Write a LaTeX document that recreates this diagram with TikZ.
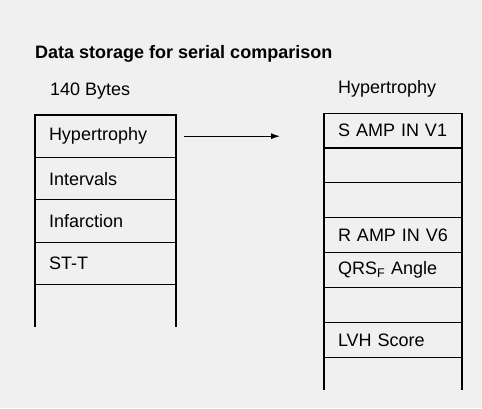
\documentclass[tikz,border=0pt]{standalone}
\usepackage{fontspec}
\setmainfont{Liberation Sans}
\usetikzlibrary{arrows.meta,positioning}

\begin{document}
\begin{tikzpicture}[
  x=1pt, y=-1pt, node distance=0pt,
  font=\fontsize{18}{21}\selectfont,
  cel/.style ={draw, line width=1.1pt, inner xsep=14pt, inner ysep=0pt,
               align=left, outer sep=0pt},
  lcel/.style={cel, text width=113pt, minimum height=42.4pt},
  rcel/.style={cel, text width=110pt, minimum height=34.9pt},
  opn/.style ={draw=none},
  hdr/.style ={inner sep=0pt, anchor=base west},
  fl/.style  ={-{Latex[length=9pt,width=6pt]}, line width=1.1pt}]

\fill[black!6] (0,0) rectangle (482,408);
\useasboundingbox (0,0) rectangle (482,408);

\node[hdr] (ttl) at (35,58) {\bfseries Data storage for serial comparison};
\node[hdr] (lhd) at (50,95) {140 Bytes};
\node[hdr] (rhd) at (338,93) {Hypertrophy};

% 140 byte record
\node[lcel] (l1) at (105.5,136.2) {Hypertrophy};
\node[lcel, below=of l1] (l2) {Intervals};
\node[lcel, below=of l2] (l3) {Infarction};
\node[lcel, below=of l3] (l4) {ST-T};
\node[lcel, opn, below=of l4] (l5) {};

% hypertrophy block
\node[rcel] (r1) at (393,130.5) {S AMP IN V1};
\node[rcel, below=of r1] (r2) {};
\node[rcel, below=of r2] (r3) {};
\node[rcel, below=of r3] (r4) {\mbox{R AMP IN V6}};
\node[rcel, below=of r4] (r5) {QRS\textsubscript{F} Angle};
\node[rcel, below=of r5] (r6) {};
\node[rcel, below=of r6] (r7) {LVH Score};
\node[rcel, opn, minimum height=33pt, below=of r7] (r8) {};

\foreach \c in {l5,r8}
  \draw[line width=1.1pt] (\c.north west) -- (\c.south west)
    (\c.north east) -- (\c.south east);
\draw[fl, shorten <=8pt, shorten >=44pt] (l1.east) -- (l1.east -| r1.west);
\end{tikzpicture}
\end{document}
